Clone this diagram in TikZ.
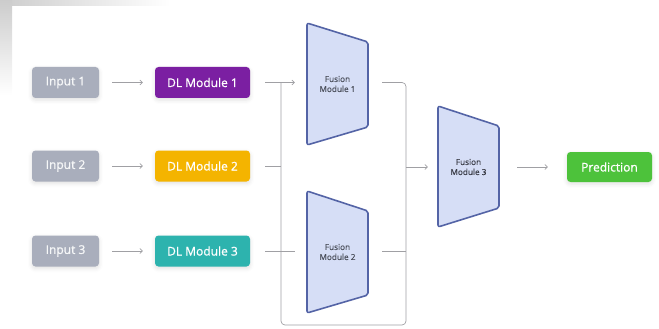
\documentclass[tikz,border=0pt]{standalone}
\usepackage{fontspec}
\setmainfont{Open Sans}
\newfontfamily\boxfont{Open Sans}[FakeBold=0.9]
\newfontfamily\fusfont{Open Sans}[FakeBold=0.3]
\usetikzlibrary{arrows.meta,shadows.blur}
\definecolor{inputgray}{HTML}{A9AEBC}
\definecolor{dlpurple}{HTML}{7B1FA2}
\definecolor{dlamber}{HTML}{F4B400}
\definecolor{dlteal}{HTML}{2DB3AE}
\definecolor{predgreen}{HTML}{4DC23B}
\definecolor{fusfill}{HTML}{D6DEF6}
\definecolor{fusline}{HTML}{5464A6}
\definecolor{wire}{HTML}{A0A0A4}
\definecolor{fustext}{HTML}{4A4E5A}
\begin{document}
\begin{tikzpicture}[x=1pt,y=-1pt,
  box/.style={rounded corners=3.5pt, minimum height=31pt, inner sep=0pt,
    text=white, font=\boxfont\fontsize{12}{14}\selectfont,
    blur shadow={shadow xshift=0pt,shadow yshift=-2pt,shadow blur radius=4pt,shadow opacity=12}},
  inbox/.style={box, fill=inputgray, minimum width=67pt, text=white!90!inputgray},
  dlbox/.style={box, minimum width=95pt},
  wireline/.style={draw=wire, line width=0.7pt},
  arr/.style={wireline, -{Straight Barb[length=2.5pt,width=5pt]}},
  fus/.style={draw=fusline, fill=fusfill, line width=1.6pt, rounded corners=2pt, line join=round},
  fuslabel/.style={align=center, text=fustext, font=\fusfont\fontsize{8.2}{10}\selectfont,
    inner sep=0pt, minimum width=61pt, minimum height=10pt}]

\useasboundingbox (0,0) rectangle (659,329);

% faded grey margin in the upper left corner
\shade[left color=black!20, right color=white] (0,0) rectangle (170,6);
\shade[top color=black!20, bottom color=white] (0,0) rectangle (12,95);

% inputs
\node[inbox] (in1) at (65.5,82.5) {Input 1};
\node[inbox] (in2) at (65.5,166) {Input 2};
\node[inbox] (in3) at (65.5,251) {Input 3};

% deep learning modules
\node[dlbox, fill=dlpurple] (dl1) at (202.5,82.5) {DL Module 1};
\node[dlbox, fill=dlamber]  (dl2) at (202.5,166) {DL Module 2};
\node[dlbox, fill=dlteal]   (dl3) at (202.5,251) {DL Module 3};

% fusion modules
\draw[fus] (307,23) -- (368,42) -- (368,127) -- (307,145) -- cycle;
\draw[fus] (307,191) -- (368,211) -- (368,295) -- (307,313) -- cycle;
\draw[fus] (438,106) -- (499,126) -- (499,208) -- (438,227) -- cycle;
\node[fuslabel] (f1) at (337.5,84) {Fusion\\Module 1};
\node[fuslabel] (f2) at (337.5,252) {Fusion\\Module 2};
\node[fuslabel, text=fustext!75!black] (f3) at (468.5,167) {Fusion\\Module 3};

% prediction
\node[box, fill=predgreen, minimum width=85pt, minimum height=30pt] (pred) at (609.5,167) {Prediction};

% bus rails
\coordinate (busL) at (281,325);
\coordinate (busR) at (406,325);

% connectors
\draw[arr, shorten <=13pt, shorten >=12pt] (in1) -- (dl1);
\draw[arr, shorten <=13pt, shorten >=12pt] (in2) -- (dl2);
\draw[arr, shorten <=13pt, shorten >=12pt] (in3) -- (dl3);

\draw[arr, shorten <=15pt, shorten >=12pt] (dl1.east) -- (dl1.east -| f1.west);
\draw[wireline, shorten <=15pt] (dl2.east) -- (dl2.east -| busL);
\draw[wireline, shorten <=15pt, shorten >=12pt] (dl3.east) -- (dl3.east -| f2.west);

\draw[wireline, rounded corners=4pt] ([xshift=14pt]dl1.east -| f1.east) -- (dl1.east -| busR)
  -- (busR) -- (busL) -- (dl1.east -| busL);
\draw[wireline, shorten <=14pt] (dl3.east -| f2.east) -- (dl3.east -| busR);
\draw[arr, shorten >=10pt] (f3.west -| busR) -- (f3.west);
\draw[arr, shorten <=18pt, shorten >=19pt] (f3.east) -- (pred);
\end{tikzpicture}
\end{document}
